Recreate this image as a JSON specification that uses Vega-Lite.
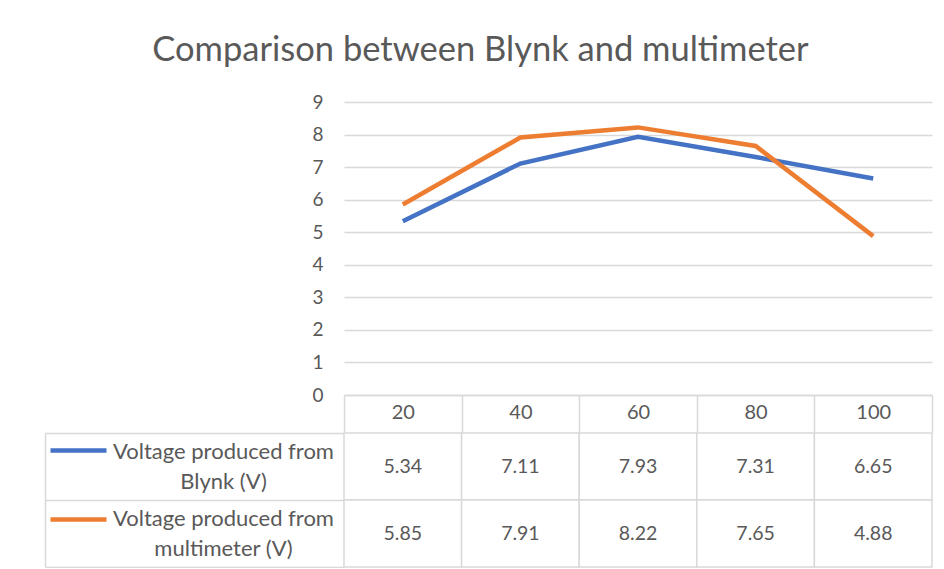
{
  "$schema": "https://vega.github.io/schema/vega-lite/v6.json",
  "padding": {"left": 44, "top": 32, "right": 13, "bottom": 0},
  "title": {"text": "Comparison between Blynk and multimeter", "font": "Lato", "fontSize": 34.5, "fontWeight": "normal", "color": "#595959", "anchor": "middle", "offset": 25, "dx": -8},
  "datasets": {
    "readings": [
      {"level": 20, "series": "Voltage produced from Blynk (V)", "voltage": 5.34},
      {"level": 40, "series": "Voltage produced from Blynk (V)", "voltage": 7.11},
      {"level": 60, "series": "Voltage produced from Blynk (V)", "voltage": 7.93},
      {"level": 80, "series": "Voltage produced from Blynk (V)", "voltage": 7.31},
      {"level": 100, "series": "Voltage produced from Blynk (V)", "voltage": 6.65},
      {"level": 20, "series": "Voltage produced from multimeter (V)", "voltage": 5.85},
      {"level": 40, "series": "Voltage produced from multimeter (V)", "voltage": 7.91},
      {"level": 60, "series": "Voltage produced from multimeter (V)", "voltage": 8.22},
      {"level": 80, "series": "Voltage produced from multimeter (V)", "voltage": 7.65},
      {"level": 100, "series": "Voltage produced from multimeter (V)", "voltage": 4.88}
    ]
  },
  "data": {"name": "readings"},
  "spacing": -11,
  "vconcat": [
    {
      "width": 588,
      "height": 293,
      "mark": {"type": "line", "strokeWidth": 4.5},
      "encoding": {
        "x": {
          "field": "level", "type": "ordinal",
          "scale": {"type": "band", "paddingInner": 0, "paddingOuter": 0},
          "axis": {"title": null, "orient": "bottom", "domain": true, "domainColor": "#d9d9d9", "domainWidth": 1.5,
                   "ticks": true, "tickBand": "extent", "tickSize": 37, "tickColor": "#d9d9d9", "tickWidth": 1.5,
                   "labelAngle": 0, "labelBaseline": "middle", "labelPadding": -20, "labelFont": "Lato", "labelFontSize": 20, "labelColor": "#595959", "grid": false}
        },
        "y": {
          "field": "voltage", "type": "quantitative",
          "scale": {"domain": [0, 9], "nice": false},
          "axis": {"title": null, "values": [0, 1, 2, 3, 4, 5, 6, 7, 8, 9], "domain": false, "ticks": false,
                   "grid": true, "gridColor": "#d9d9d9", "gridWidth": 1.5, "minExtent": 299,
                   "labelFont": "Lato", "labelFontSize": 19, "labelColor": "#595959", "labelPadding": 21}
        },
        "color": {
          "field": "series", "type": "nominal",
          "scale": {"domain": ["Voltage produced from Blynk (V)", "Voltage produced from multimeter (V)"], "range": ["#4472C4", "#ED7D31"]},
          "legend": {"orient": "none", "legendX": -296, "legendY": 318, "title": null, "symbolType": "stroke", "symbolSize": 3136,
                     "symbolStrokeWidth": 4.5, "labelExpr": "''", "rowPadding": 29, "padding": 0, "labelOffset": 0}
        }
      }
    },
    {
      "width": 588,
      "height": 134,
      "resolve": {"axis": {"y": "independent"}},
      "layer": [
        {
          "mark": {"type": "rect", "fill": "white", "stroke": "#d9d9d9", "strokeWidth": 1.5},
          "encoding": {
            "x": {"field": "level", "type": "ordinal", "scale": {"type": "band", "paddingInner": 0, "paddingOuter": 0}, "axis": null},
            "y": {
              "field": "series", "type": "nominal",
              "sort": ["Voltage produced from Blynk (V)", "Voltage produced from multimeter (V)"],
              "scale": {"paddingInner": 0, "paddingOuter": 0},
              "axis": {"title": null, "domain": false, "ticks": true, "tickBand": "extent", "tickSize": 299, "tickColor": "#d9d9d9", "tickWidth": 1.5,
                       "labelExpr": "[slice(datum.label, 0, 21), slice(datum.label, 22)]", "labelAlign": "center", "labelBaseline": "middle",
                       "labelPadding": -178, "labelOffset": -15, "labelFont": "Lato", "labelFontSize": 22, "labelColor": "#595959", "labelLineHeight": 30, "labelLimit": 0, "minExtent": 299}
            }
          }
        },
        {
          "mark": {"type": "text", "font": "Lato", "fontSize": 19.5, "color": "#595959"},
          "encoding": {
            "x": {"field": "level", "type": "ordinal", "scale": {"type": "band", "paddingInner": 0, "paddingOuter": 0}, "axis": null},
            "y": {
              "field": "series", "type": "nominal",
              "sort": ["Voltage produced from Blynk (V)", "Voltage produced from multimeter (V)"],
              "axis": {"title": null, "orient": "left", "offset": 299, "domain": true, "domainColor": "#d9d9d9", "domainWidth": 1.5, "labels": false, "ticks": false, "grid": false}
            },
            "text": {"field": "voltage", "type": "quantitative", "format": ".2f"}
          }
        }
      ]
    }
  ],
  "config": {"view": {"stroke": null}, "font": "Lato"}
}
